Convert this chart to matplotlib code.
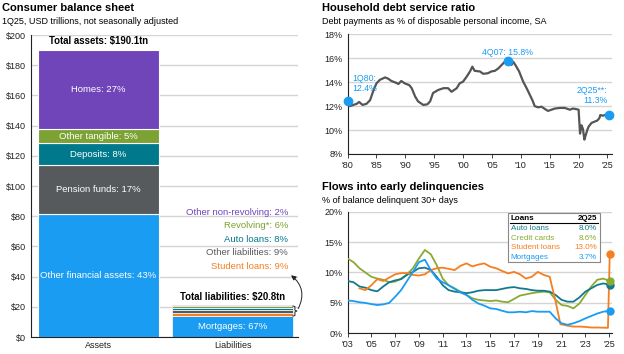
import matplotlib
matplotlib.use("Agg")
import matplotlib.pyplot as plt

plt.rcParams['font.family'] = ['Liberation Sans', 'DejaVu Sans']

# --- consumer balance sheet (USD tn) ---
asset_labels = ['Other financial assets: 43%', 'Pension funds: 17%', 'Deposits: 8%',
                'Other tangible: 5%', 'Homes: 27%']
asset_values = [81.7, 32.3, 14.3, 9.6, 52.2]
asset_colors = ['#1A9CF2', '#575A5D', '#00798C', '#7BA232', '#7045B9']

liab_labels = ['Mortgages: 67%', 'Student loans: 9%', 'Other liabilities: 9%',
               'Auto loans: 8%', 'Revolving*: 6%', 'Other non-revolving: 2%']
liab_values = [13.9, 1.9, 1.9, 1.7, 1.2, 0.4]
liab_colors = ['#1A9CF2', '#F57F20', '#575A5D', '#00798C', '#7BA232', '#7045B9']
liab_text_y = [None, 46.8, 55.8, 64.6, 73.6, 82.4]

# --- household debt service ratio (%) ---
dsr_years = [1980.0, 1980.4, 1981.0, 1981.6, 1982.0, 1982.6, 1983.3, 1983.9, 1984.4,
             1985.0, 1985.6, 1986.5, 1987.0, 1987.6, 1988.4, 1988.8, 1989.3, 1989.9,
             1990.7, 1991.1, 1991.7, 1992.2, 1993.1, 1993.8, 1994.3, 1994.8, 1995.7,
             1996.6, 1997.4, 1998.0, 1998.9, 1999.4, 2000.0, 2000.6, 2001.2, 2001.6,
             2002.0, 2002.9, 2003.5, 2004.3, 2004.9, 2005.5, 2006.1, 2006.7, 2007.2,
             2007.75, 2008.0, 2008.4, 2008.7, 2009.1, 2009.7, 2010.4, 2011.0, 2011.6,
             2012.0, 2012.4, 2013.0, 2013.6, 2014.2, 2014.7, 2015.3, 2015.9, 2016.8,
             2017.6, 2018.5, 2019.0, 2019.6, 2020.0, 2020.25, 2020.5, 2020.75, 2021.0,
             2021.25, 2021.5, 2021.75, 2022.25, 2022.75, 2023.25, 2023.6, 2023.75,
             2024.25, 2024.75, 2025.25]
dsr_values = [12.4, 12.0, 12.1, 12.2, 12.35, 12.1, 12.2, 12.5, 13.2,
              13.9, 14.2, 14.4, 14.3, 14.1, 13.95, 13.85, 14.1, 13.9,
              13.75, 13.5, 12.8, 12.4, 12.1, 12.15, 12.4, 13.1, 13.35,
              13.5, 13.5, 13.2, 13.5, 13.9, 14.05, 14.45, 14.9, 15.3,
              14.95, 14.9, 14.7, 14.75, 14.9, 14.95, 15.15, 15.45, 15.7,
              15.8, 15.6, 15.45, 15.7, 15.4, 14.9, 14.05, 13.5, 12.9,
              12.5, 12.0, 11.9, 11.95, 11.75, 11.6, 11.7, 11.8, 11.85,
              11.85, 11.7, 11.8, 11.75, 11.7, 9.7, 10.4, 10.1, 9.2,
              9.6, 10.0, 10.3, 10.6, 10.7, 10.8, 11.0, 11.25,
              11.2, 11.3, 11.3]

# --- flows into early delinquencies (% of balance) ---
dq_years = [2003.0, 2003.5, 2004.0, 2004.5, 2005.0, 2005.5, 2006.0, 2006.5, 2007.0,
            2007.5, 2008.0, 2008.5, 2009.0, 2009.5, 2010.0, 2010.5, 2011.0, 2011.5,
            2012.0, 2012.5, 2013.0, 2013.5, 2014.0, 2014.5, 2015.0, 2015.5, 2016.0,
            2016.5, 2017.0, 2017.5, 2018.0, 2018.5, 2019.0, 2019.5, 2020.0, 2020.5,
            2021.0, 2021.5, 2022.0, 2022.5, 2023.0, 2023.5, 2024.0, 2024.5, 2025.05]
mortgages = [5.4, 5.3, 5.1, 5.0, 4.8, 4.65, 4.75, 5.0, 6.0,
             7.1, 8.6, 10.1, 11.7, 12.1, 10.4, 9.0, 8.4, 7.9,
             7.3, 6.7, 6.3, 5.5, 4.9, 4.55, 4.1, 4.0, 3.7,
             3.45, 3.45, 3.55, 3.45, 3.65, 3.55, 3.55, 3.55, 2.45,
             1.65, 1.4, 1.65, 2.0, 2.45, 2.85, 3.25, 3.55, 3.7]
auto_loans = [8.6, 8.4, 7.7, 7.5, 7.1, 6.9, 7.7, 8.4, 8.7,
              8.9, 9.6, 10.1, 10.7, 10.8, 10.4, 9.3, 7.9, 7.1,
              6.85, 6.75, 6.6, 6.75, 7.0, 7.1, 7.1, 7.1, 7.3,
              7.5, 7.6, 7.4, 7.3, 7.1, 7.0, 7.0, 6.85, 6.3,
              5.5, 5.2, 5.2, 5.9, 6.85, 7.4, 7.95, 8.2, 8.0]
credit_cards = [12.3, 11.7, 10.7, 10.0, 9.3, 9.0, 8.8, 8.4, 8.5,
                9.0, 9.7, 10.7, 12.3, 13.7, 13.0, 11.2, 9.0, 7.9,
                7.4, 6.85, 6.3, 5.75, 5.5, 5.4, 5.3, 5.4, 5.2,
                5.1, 5.65, 6.2, 6.4, 6.6, 6.75, 6.85, 6.75, 5.5,
                4.65, 4.5, 4.1, 4.9, 6.3, 7.7, 8.8, 9.0, 8.6]
student_years = [2004.0, 2004.5, 2005.0, 2005.5, 2006.0, 2006.5, 2007.0, 2007.5, 2008.0,
                 2008.5, 2009.0, 2009.5, 2010.0, 2010.5, 2011.0, 2011.5, 2012.0, 2012.5,
                 2013.0, 2013.5, 2014.0, 2014.5, 2015.0, 2015.5, 2016.0, 2016.5, 2017.0,
                 2017.5, 2018.0, 2018.5, 2019.0, 2019.5, 2020.0, 2020.5, 2020.9, 2021.5,
                 2022.0, 2022.5, 2023.0, 2023.5, 2024.0, 2024.9, 2025.05]
student_loans = [7.4, 7.1, 7.9, 8.9, 8.6, 9.15, 9.7, 9.9, 9.9,
                 9.6, 9.5, 9.7, 10.4, 10.7, 10.8, 10.6, 10.4, 11.1,
                 11.5, 11.0, 11.3, 11.5, 10.95, 10.7, 10.25, 9.85, 10.1,
                 9.7, 9.0, 9.3, 10.1, 9.6, 9.3, 5.2, 1.5, 1.25,
                 1.1, 1.1, 1.05, 0.95, 0.95, 0.9, 13.0]
table_names = ['Auto loans', 'Credit cards', 'Student loans', 'Mortgages']
table_values = ['8.0%', '8.6%', '13.0%', '3.7%']

BLUE = '#1A9CF2'
TEAL = '#13798C'
GREEN = '#8AAA32'
ORANGE = '#F57F20'
GRID = '#D4D4D4'

fig = plt.figure(figsize=(6.24, 3.54), dpi=100)


def style_axis(ax):
    for s in ['top', 'right']:
        ax.spines[s].set_visible(False)
    ax.spines['left'].set_color('#222222')
    ax.spines['bottom'].set_color('#222222')
    ax.spines['left'].set_linewidth(0.8)
    ax.spines['bottom'].set_linewidth(0.8)
    ax.grid(axis='y', color=GRID, linewidth=1.0)
    ax.set_axisbelow(True)
    ax.tick_params(labelsize=6.5, colors='#222222', length=3, width=0.6)
    ax.tick_params(axis='y', length=0)


# ---------------- left: balance sheet ----------------
ax1 = fig.add_axes([0.050, 0.048, 0.428, 0.853])
style_axis(ax1)
bottom = 0
for lab, val, col in zip(asset_labels, asset_values, asset_colors):
    ax1.bar(0, val, bottom=bottom, width=0.9, color=col, edgecolor='white', linewidth=0.8)
    ax1.text(0, bottom + val / 2, lab, ha='center', va='center', color='white', fontsize=6.8)
    bottom += val
ax1.text(0, bottom + 2.5, 'Total assets: $190.1tn', ha='center', va='bottom',
         fontsize=6.9, fontweight='bold')

bottom = 0
for lab, val, col, ty in zip(liab_labels, liab_values, liab_colors, liab_text_y):
    ax1.bar(1, val, bottom=bottom, width=0.9, color=col, edgecolor='white', linewidth=0.5)
    if ty is None:
        ax1.text(1, bottom + val / 2, lab, ha='center', va='center', color='white', fontsize=6.8)
    else:
        ax1.text(1.415, ty, lab, ha='right', va='center', color=col, fontsize=6.8)
    bottom += val
ax1.text(1, bottom + 2.5, 'Total liabilities: $20.8tn', ha='center', va='bottom',
         fontsize=6.9, fontweight='bold')

# bracket and arrow
bx = [1.45, 1.465, 1.465, 1.48, 1.465, 1.465, 1.45]
by = [20.5, 20.2, 17.8, 17.2, 16.6, 14.2, 13.9]
ax1.plot(bx, by, color='#222222', lw=0.7, clip_on=False)
ax1.annotate('', xy=(1.42, 42), xytext=(1.48, 17.2),
             arrowprops=dict(arrowstyle='-|>', color='#222222', lw=0.7,
                             mutation_scale=7, connectionstyle='arc3,rad=0.45'),
             annotation_clip=False)

ax1.set_xlim(-0.5, 1.49)
ax1.set_ylim(0, 200)
ax1.set_yticks(range(0, 201, 20))
ax1.set_yticklabels(['$%d' % v for v in range(0, 201, 20)])
ax1.set_xticks([0, 1])
ax1.set_xticklabels(['Assets', 'Liabilities'])
ax1.tick_params(axis='x', length=0, pad=3)

fig.text(0.004, 0.977, 'Consumer balance sheet', fontsize=8, fontweight='bold', va='center')
fig.text(0.004, 0.940, '1Q25, USD trillions, not seasonally adjusted', fontsize=6.5, va='center')

# ---------------- top right: debt service ratio ----------------
ax2 = fig.add_axes([0.557, 0.565, 0.423, 0.338])
style_axis(ax2)
ax2.plot(dsr_years, dsr_values, color='#555555', lw=1.6, zorder=3)
for x, y in [(dsr_years[0], dsr_values[0]), (2007.75, 15.8), (dsr_years[-1], dsr_values[-1])]:
    ax2.plot(x, y, 'o', color=BLUE, ms=6, zorder=4, clip_on=False)
ax2.text(1980.8, 13.9, '1Q80:\n12.4%', color=BLUE, fontsize=6.3, va='center', ha='left',
         linespacing=1.2)
ax2.text(2007.7, 16.5, '4Q07: 15.8%', color=BLUE, fontsize=6.3, va='center', ha='center')
ax2.text(2025.0, 12.9, '2Q25**:\n11.3%', color=BLUE, fontsize=6.3, va='center', ha='right',
         linespacing=1.2)
ax2.set_xlim(1980, 2025.7)
ax2.set_ylim(8, 18)
ax2.set_yticks(range(8, 19, 2))
ax2.set_yticklabels(['%d%%' % v for v in range(8, 19, 2)])
ax2.set_xticks(range(1980, 2026, 5))
ax2.set_xticklabels(["'%02d" % (y % 100) for y in range(1980, 2026, 5)])
ax2.tick_params(axis='x', pad=2)

fig.text(0.516, 0.977, 'Household debt service ratio', fontsize=8, fontweight='bold', va='center')
fig.text(0.516, 0.938, 'Debt payments as % of disposable personal income, SA', fontsize=6.5,
         va='center')

# ---------------- bottom right: delinquencies ----------------
ax3 = fig.add_axes([0.557, 0.0585, 0.423, 0.3435])
style_axis(ax3)
ax3.plot(dq_years, credit_cards, color=GREEN, lw=1.3, zorder=3)
ax3.plot(dq_years, auto_loans, color=TEAL, lw=1.3, zorder=3)
ax3.plot(student_years, student_loans, color=ORANGE, lw=1.3, zorder=3)
ax3.plot(dq_years, mortgages, color=BLUE, lw=1.3, zorder=3)
ax3.plot(dq_years[-1], auto_loans[-1], 'o', color=TEAL, ms=5, zorder=4, clip_on=False)
ax3.plot(dq_years[-1], credit_cards[-1], 'o', color=GREEN, ms=5, zorder=4, clip_on=False)
ax3.plot(student_years[-1], student_loans[-1], 'o', color=ORANGE, ms=5, zorder=4, clip_on=False)
ax3.plot(dq_years[-1], mortgages[-1], 'o', color=BLUE, ms=5, zorder=4, clip_on=False)
ax3.set_xlim(2003, 2025.2)
ax3.set_ylim(0, 20)
ax3.set_yticks(range(0, 21, 5))
ax3.set_yticklabels(['%d%%' % v for v in range(0, 21, 5)])
ax3.set_xticks(range(2003, 2026, 2))
ax3.set_xticklabels(["'%02d" % (y % 100) for y in range(2003, 2026, 2)])
ax3.tick_params(axis='x', pad=2)

# summary table
ax3.add_patch(plt.Rectangle((0.607, 0.586), 0.35, 0.403, transform=ax3.transAxes,
                            facecolor='white', edgecolor='#888888', lw=0.8, zorder=5))
ax3.text(0.618, 0.940, 'Loans', transform=ax3.transAxes, fontsize=5.8, fontweight='bold',
         va='center', zorder=6)
ax3.text(0.946, 0.940, '2Q25', transform=ax3.transAxes, fontsize=5.8, fontweight='bold',
         va='center', ha='right', zorder=6)
ax3.plot([0.614, 0.950], [0.903, 0.903], transform=ax3.transAxes, color='black', lw=0.8,
         zorder=6)
row_colors = [TEAL, GREEN, ORANGE, BLUE]
for i, (nm, vl, col) in enumerate(zip(table_names, table_values, row_colors)):
    y = 0.862 - i * 0.080
    ax3.text(0.618, y, nm, transform=ax3.transAxes, fontsize=5.8, color=col, va='center',
             zorder=6)
    ax3.text(0.946, y, vl, transform=ax3.transAxes, fontsize=5.8, color=col, va='center',
             ha='right', zorder=6)

fig.text(0.516, 0.471, 'Flows into early delinquencies', fontsize=8, fontweight='bold',
         va='center')
fig.text(0.516, 0.434, '% of balance delinquent 30+ days', fontsize=6.5, va='center')

fig.savefig('out.png', dpi=100)
